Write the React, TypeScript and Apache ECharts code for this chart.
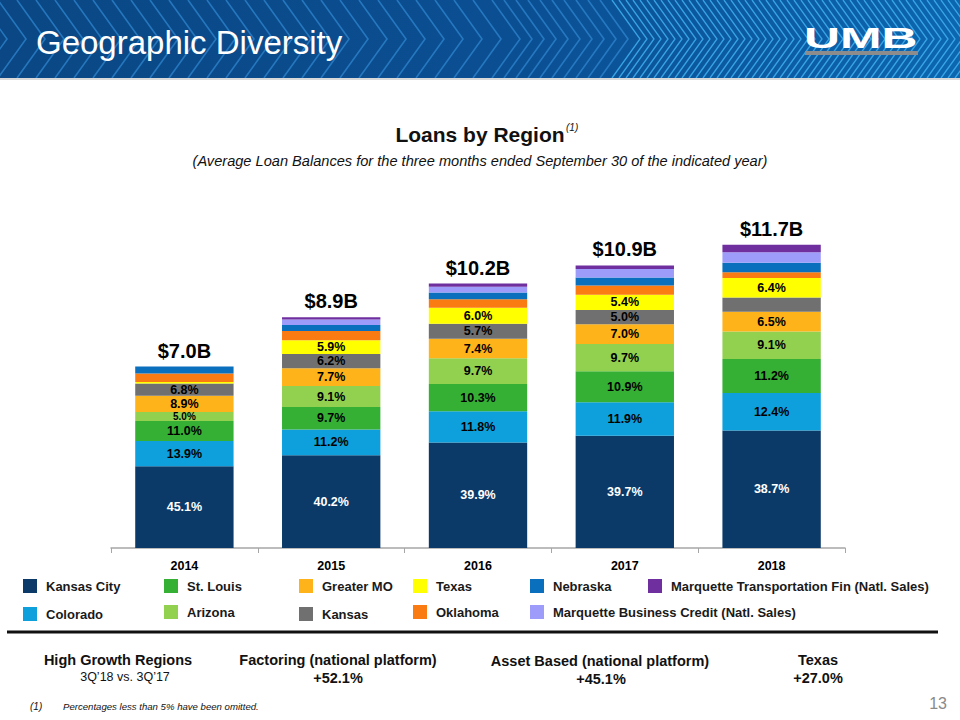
import React, { useEffect, useRef } from "react";
import * as echarts from "echarts";

// ---- Data (percent of total loans by region) ----
const years = ["2014", "2015", "2016", "2017", "2018"];
const totals = [7.0, 8.9, 10.2, 10.9, 11.7];
const totalLabels = ["$7.0B", "$8.9B", "$10.2B", "$10.9B", "$11.7B"];

const kansasCity = [45.1, 40.2, 39.9, 39.7, 38.7];
const colorado = [13.9, 11.2, 11.8, 11.9, 12.4];
const stLouis = [11.0, 9.7, 10.3, 10.9, 11.2];
const arizona = [5.0, 9.1, 9.7, 9.7, 9.1];
const greaterMO = [8.9, 7.7, 7.4, 7.0, 6.5];
const kansas = [6.8, 6.2, 5.7, 5.0, 4.7];
const texas = [0.8, 5.9, 6.0, 5.4, 6.4];
const oklahoma = [4.7, 4.0, 3.3, 3.3, 1.9];
const nebraska = [3.8, 2.6, 2.5, 2.8, 3.1];
const marquetteBC = [0, 2.4, 2.2, 3.0, 3.5];
const marquetteTF = [0, 1.0, 1.2, 1.3, 2.5];

const seriesNames = [
  "Kansas City",
  "Colorado",
  "St. Louis",
  "Arizona",
  "Greater MO",
  "Kansas",
  "Texas",
  "Oklahoma",
  "Nebraska",
  "Marquette Business Credit (Natl. Sales)",
  "Marquette Transportation Fin (Natl. Sales)",
];
const seriesPcts = [
  kansasCity, colorado, stLouis, arizona, greaterMO, kansas,
  texas, oklahoma, nebraska, marquetteBC, marquetteTF,
];
const seriesColors = [
  "#0b3a68", "#0ea0dc", "#35b035", "#92d050", "#ffb31a", "#707070",
  "#ffff00", "#f97b12", "#0a6fbd", "#9e9cfb", "#6f2f9f",
];

// High growth regions footer
const growthLabels = ["Factoring (national platform)", "Asset Based (national platform)", "Texas"];
const growthValues = ["+52.1%", "+45.1%", "+27.0%"];

const FONT = "'Liberation Sans', Arial, Helvetica, sans-serif";

export default function App() {
  const ref = useRef<HTMLDivElement>(null);

  useEffect(() => {
    if (!ref.current) return;
    const chart = echarts.init(ref.current, null, { renderer: "svg" });

    const series: any[] = seriesNames.map((name, si) => ({
      name,
      type: "bar",
      stack: "loans",
      barWidth: "67%",
      itemStyle: { color: seriesColors[si] },
      data: seriesPcts[si].map((p, i) => {
        const v = +(totals[i] * p / 100).toFixed(4);
        const small = v < 0.45;
        return {
          value: v,
          label: {
            show: p >= 5,
            fontSize: small ? 10 : 12.5,
          },
        };
      }),
      label: {
        show: true,
        position: "inside",
        fontFamily: FONT,
        fontWeight: "bold",
        fontSize: 12.5,
        color: si === 0 ? "#ffffff" : "#000000",
        formatter: (params: any) => seriesPcts[si][params.dataIndex].toFixed(1) + "%",
      },
      emphasis: { disabled: true },
    }));

    series.push({
      name: "Total",
      type: "scatter",
      data: totals,
      symbolSize: 0,
      itemStyle: { color: "#000000", opacity: 1 },
      label: {
        show: true,
        position: "top",
        distance: 6,
        fontFamily: FONT,
        fontWeight: "bold",
        fontSize: 20,
        color: "#000000",
        opacity: 1,
        textBorderWidth: 0,
        formatter: (params: any) => totalLabels[params.dataIndex],
      },
      emphasis: { disabled: true },
      z: 10,
    });

    // legend layout
    const legendPos: [string, number, number][] = [
      ["Kansas City", 23, 579],
      ["St. Louis", 164, 579],
      ["Greater MO", 299, 579],
      ["Texas", 413, 579],
      ["Nebraska", 530, 579],
      ["Marquette Transportation Fin (Natl. Sales)", 648, 579],
      ["Colorado", 23, 607],
      ["Arizona", 164, 605],
      ["Kansas", 299, 607],
      ["Oklahoma", 413, 605],
      ["Marquette Business Credit (Natl. Sales)", 530, 605],
    ];
    const legends = legendPos.map(([name, left, top]) => ({
      data: [name],
      left,
      top,
      padding: 0,
      itemWidth: 14,
      itemHeight: 14,
      icon: "rect",
      selectedMode: false,
      textStyle: {
        fontFamily: FONT,
        fontWeight: "bold",
        fontSize: 13,
        color: "#1a1a1a",
        padding: [name === "Colorado" || name === "Kansas" ? 4 : 0, 0, 0, 4],
      },
    }));

    // decorative header chevrons
    const chevrons: any[] = [];
    let x = -40;
    while (x < 960) {
      const right = x > 600;
      chevrons.push({
        type: "polyline",
        silent: true,
        shape: { points: [[x, 0], [x + 28, 39], [x, 78]] },
        style: {
          stroke: right ? "#3fb0f0" : "#2f86cf",
          lineWidth: right ? 1.3 : 1.6,
          opacity: right ? 0.85 : 0.75,
          fill: "none",
        },
      });
      x += right ? 7 : x > 480 ? 12 : 19;
    }

    const txt = (
      text: string, x: number, y: number, size: number,
      opts: any = {}
    ) => ({
      type: "text",
      silent: true,
      x, y,
      style: {
        text,
        fill: opts.fill || "#111111",
        fontFamily: opts.family || FONT,
        fontSize: size,
        fontWeight: opts.weight || "normal",
        fontStyle: opts.style || "normal",
        textAlign: opts.align || "center",
        textVerticalAlign: "middle",
      },
      ...(opts.extra || {}),
    });

    const graphic: any[] = [
      {
        type: "rect",
        silent: true,
        shape: { x: 0, y: 0, width: 960, height: 78 },
        style: {
          fill: new echarts.graphic.LinearGradient(0, 0, 1, 0, [
            { offset: 0, color: "#0a4784" },
            { offset: 0.55, color: "#0b4f93" },
            { offset: 1, color: "#0c66b0" },
          ]),
        },
      },
      ...chevrons,
      {
        type: "rect",
        silent: true,
        shape: { x: 0, y: 78, width: 960, height: 2 },
        style: { fill: "#d9d9d9" },
      },
      txt("Geographic Diversity", 36, 42, 33, { fill: "#ffffff", align: "left" }),
      {
        type: "text",
        silent: true,
        x: 804,
        y: 38,
        scaleX: 1.72,
        style: {
          text: "UMB",
          fill: "#ffffff",
          fontFamily: FONT,
          fontSize: 29,
          fontWeight: 900,
          textAlign: "left",
          textVerticalAlign: "middle",
        },
      },
      {
        type: "rect",
        silent: true,
        shape: { x: 805, y: 51, width: 113, height: 4 },
        style: { fill: "#8c8c8c" },
      },
      txt("Loans by Region", 480, 134, 21, { weight: "bold" }),
      txt("(1)", 566, 127, 10, { style: "italic", align: "left" }),
      txt("(Average Loan Balances for the three months ended September 30 of the indicated year)", 480, 161, 14.6, { style: "italic" }),
      {
        type: "line",
        silent: true,
        shape: { x1: 7, y1: 632, x2: 938, y2: 632 },
        style: { stroke: "#111111", lineWidth: 3 },
      },
      txt("High Growth Regions", 118, 660, 14.5, { weight: "bold" }),
      txt("3Q\u201918 vs. 3Q\u201917", 125, 677, 12.5),
      txt(growthLabels[0], 338, 660, 14.5, { weight: "bold" }),
      txt(growthValues[0], 338, 678, 14.5, { weight: "bold" }),
      txt(growthLabels[1], 600, 661, 14.5, { weight: "bold" }),
      txt(growthValues[1], 601, 679, 14.5, { weight: "bold" }),
      txt(growthLabels[2], 818, 660, 14.5, { weight: "bold" }),
      txt(growthValues[2], 818, 678, 14.5, { weight: "bold" }),
      txt("(1)", 30, 706, 10, { style: "italic", align: "left" }),
      txt("Percentages less than 5% have been omitted.", 63, 706, 9.6, { style: "italic", align: "left" }),
      txt("13", 947, 703, 16, { fill: "#8a8a8a", align: "right" }),
    ];

    chart.setOption({
      animation: false,
      backgroundColor: "#ffffff",
      grid: { left: 111, right: 115, top: 185, bottom: 172 },
      xAxis: {
        type: "category",
        data: years,
        axisLine: { lineStyle: { color: "#a6a6a6", width: 1.5 } },
        axisTick: { show: true, length: 5, lineStyle: { color: "#a6a6a6" } },
        axisLabel: {
          fontFamily: FONT,
          fontWeight: "bold",
          fontSize: 12.5,
          color: "#000000",
          margin: 11,
        },
      },
      yAxis: {
        type: "value",
        min: 0,
        max: 14,
        show: false,
        splitLine: { show: false },
      },
      legend: legends,
      series,
      graphic,
    });

    return () => chart.dispose();
  }, []);

  return (
    <div
      ref={ref}
      style={{ position: "absolute", left: 0, top: 0, width: 960, height: 720, background: "#fff" }}
    />
  );
}
